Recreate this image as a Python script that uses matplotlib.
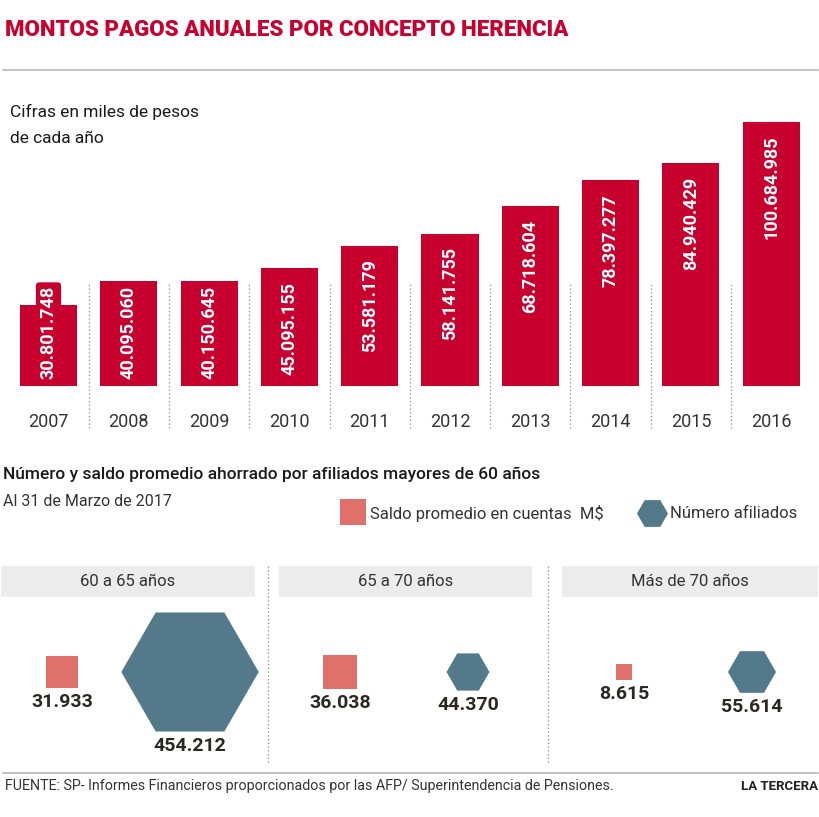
import numpy as np
import matplotlib
matplotlib.use("Agg")
import matplotlib.pyplot as plt
from matplotlib.patches import Rectangle

# ── Data ─────────────────────────────────────────────────────────────────────
YEARS  = ["2007", "2008", "2009", "2010", "2011",
          "2012", "2013", "2014", "2015", "2016"]
MONTOS = [30801748, 40095060, 40150645, 45095155, 53581179,
          58141755, 68718604, 78397277, 84940429, 100684985]   # miles de pesos

GRUPOS    = ["60 a 65 años", "65 a 70 años", "Más de 70 años"]
SALDO     = [31933, 36038, 8615]        # saldo promedio M$
AFILIADOS = [454212, 44370, 55614]      # número afiliados

# ── Style ────────────────────────────────────────────────────────────────────
RED   = "#c8002e"
PINK  = "#e0706a"
TEAL  = "#53798b"
GRAY  = "#ececec"
LINE  = "#b3b3b3"
TEXT  = "#222222"
DARK  = "#2b2823"
FONT  = "Roboto"

plt.rcParams.update({"font.family": [FONT, "DejaVu Sans"], "text.color": TEXT})

W, H, DPI = 820, 817, 100
PT = 72 / DPI   # points per pixel


def fmt(v):
    return f"{v:,.0f}".replace(",", ".")


fig = plt.figure(figsize=(W / DPI, H / DPI), dpi=DPI)

# canvas in pixel coordinates for headings and layout
cv = fig.add_axes([0, 0, 1, 1])
cv.set_xlim(0, W)
cv.set_ylim(H, 0)
cv.axis("off")

cv.text(5, 30, "MONTOS PAGOS ANUALES POR CONCEPTO HERENCIA", fontsize=16,
        fontweight="heavy", color=RED, va="center", ha="left")
cv.plot([3, 818], [70, 70], color=LINE, lw=1.1)
cv.text(10, 112, "Cifras en miles de pesos", fontsize=12.5, va="center",
        color="#1a1a1a")
cv.text(10, 138, "de cada año", fontsize=12.5, va="center", color="#1a1a1a")

# ── Bar chart ────────────────────────────────────────────────────────────────
px_per_unit = 2.622            # pixels per million
base_px, top_px, bot_px = 386, 100, 440
left_px, step_px = 8.35, 80.3
ax = fig.add_axes([left_px / W, (H - bot_px) / H,
                   step_px * len(YEARS) / W, (bot_px - top_px) / H])
ax.set_facecolor("none")
ax.axis("off")
ax.set_xlim(-0.5, len(YEARS) - 0.5)
ax.set_ylim(-(bot_px - base_px) / px_per_unit, (base_px - top_px) / px_per_unit)

x = np.arange(len(YEARS))
vals = np.array(MONTOS) / 1e6
ax.bar(x, vals, width=0.71, color=RED)

ax.vlines(x[:-1] + 0.5, -16.0, 39.7, colors="#8a8a8a", lw=0.9,
          linestyles=(0, (1, 2)), clip_on=False)

lab_len = 36.0
for xi, v, m in zip(x, vals, MONTOS):
    if v - 5.3 - lab_len < 2.6:
        y, va = 2.6, "bottom"
    else:
        y, va = v - 5.3, "top"
    ax.text(xi, y, fmt(m), rotation=90, ha="center", va=va, color="white",
            fontsize=13, fontweight="bold",
            bbox=dict(boxstyle="round,pad=0.2", fc=RED, ec="none"))
    ax.text(xi, -13.7, YEARS[xi], ha="center", va="center", fontsize=13,
            color="#333333")

# ── Bottom section ───────────────────────────────────────────────────────────
cv.text(3, 474, "Número y saldo promedio ahorrado por afiliados mayores de 60 años",
        fontsize=12.5, fontweight="medium", va="center", color="#1a1a1a")
cv.text(3, 501, "Al 31 de Marzo de 2017", fontsize=11.5, va="center",
        color="#333333")

cv.scatter([353], [512], s=(26 * PT) ** 2, marker="s", color=PINK, lw=0)
cv.text(370, 513, "Saldo promedio en cuentas  M$", fontsize=12, va="center",
        color="#333333")
cv.scatter([652], [513], s=(31 * PT) ** 2, marker="H", color=TEAL, lw=0)
cv.text(670, 513, "Número afiliados", fontsize=12, va="center",
        color="#333333")

group_x = [128, 406, 690]
box_w = [255, 253, 256]
shape_y = 672
for gx, bw, g in zip(group_x, box_w, GRUPOS):
    cv.add_patch(Rectangle((gx - bw / 2, 566), bw, 31, fc=GRAY, ec="none"))
    cv.text(gx, 582, g, ha="center", va="center", fontsize=12,
            color="#333333")

for sx in [268, 548]:
    cv.plot([sx, sx], [566, 763], color="#8a8a8a", lw=0.9,
            linestyle=(0, (1, 2)))

sq_side = 5.55 * np.sqrt(np.array(SALDO) / 1000)       # px
hx_width = 6.45 * np.sqrt(np.array(AFILIADOS) / 1000)  # px
sq_x = np.array(group_x) - 66
hx_x = np.array(group_x) + 62

cv.scatter(sq_x, [shape_y] * 3, s=(sq_side * PT) ** 2, marker="s",
           color=PINK, lw=0)
cv.scatter(hx_x, [shape_y] * 3, s=(hx_width * PT) ** 2, marker="H",
           color=TEAL, lw=0)

for xs, side, v in zip(sq_x, sq_side, SALDO):
    cv.text(xs, shape_y + side / 2 + 14, fmt(v), ha="center", va="center",
            fontsize=14, fontweight="bold", color=DARK)
for xh, wd, v in zip(hx_x, hx_width, AFILIADOS):
    cv.text(xh, shape_y + wd * np.sqrt(3) / 4 + 14, fmt(v), ha="center",
            va="center", fontsize=14, fontweight="bold", color=DARK)

cv.plot([3, 818], [773, 773], color=LINE, lw=1.1)
cv.text(5, 786, "FUENTE: SP- Informes Financieros proporcionados por las AFP/ "
        "Superintendencia de Pensiones.", fontsize=10.3, va="center",
        color="#333333")
cv.text(818, 786, "LA TERCERA", fontsize=9.5, fontweight="bold", va="center",
        ha="right")

fig.savefig("out.png", dpi=DPI)
